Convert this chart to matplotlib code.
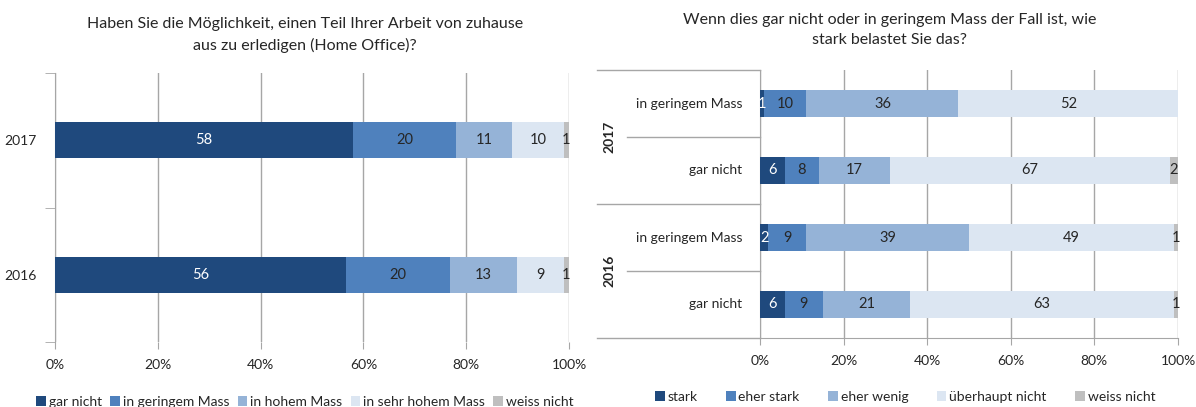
import numpy as np
import matplotlib
matplotlib.use('Agg')
import matplotlib.pyplot as plt
import matplotlib.transforms as mtransforms

plt.rcParams['font.family'] = ['Lato', 'DejaVu Sans']

# left chart
LEFT_TITLE = 'Haben Sie die Möglichkeit, einen Teil Ihrer Arbeit von zuhause\naus zu erledigen (Home Office)?'
LEFT_YEARS = ['2016', '2017']
LEFT_SERIES = ['gar nicht', 'in geringem Mass', 'in hohem Mass', 'in sehr hohem Mass', 'weiss nicht']
LEFT_VALUES = [
    [56, 58],   # gar nicht
    [20, 20],   # in geringem Mass
    [13, 11],   # in hohem Mass
    [9, 10],    # in sehr hohem Mass
    [1, 1],     # weiss nicht
]

# right chart
RIGHT_TITLE = 'Wenn dies gar nicht oder in geringem Mass der Fall ist, wie\nstark belastet Sie das?'
RIGHT_GROUPS = ['2016', '2017']
RIGHT_CATS = ['gar nicht', 'in geringem Mass', 'gar nicht', 'in geringem Mass']
RIGHT_SERIES = ['stark', 'eher stark', 'eher wenig', 'überhaupt nicht', 'weiss nicht']
RIGHT_VALUES = [
    [6, 2, 6, 1],       # stark
    [9, 9, 8, 10],      # eher stark
    [21, 39, 17, 36],   # eher wenig
    [63, 49, 67, 52],   # überhaupt nicht
    [1, 1, 2, 0],       # weiss nicht
]
XTICKS = [0, 20, 40, 60, 80, 100]

COLORS = ['#1F497D', '#4F81BD', '#95B3D7', '#DCE6F2', '#BFBFBF']
TEXT_COLORS = ['white', '#262626', '#262626', '#262626', '#262626']
GRID = '#A6A6A6'


def stacked(ax, values, series, height):
    vals = np.array(values, dtype=float)
    totals = vals.sum(axis=0)
    left = np.zeros(vals.shape[1])
    ys = np.arange(vals.shape[1])
    for i, name in enumerate(series):
        w = vals[i] / totals * 100
        ax.barh(ys, w, left=left, height=height, color=COLORS[i], label=name, zorder=3)
        for y, l, ww, v in zip(ys, left, w, vals[i]):
            if v > 0:
                ax.text(l + ww / 2, y, f'{v:.0f}', ha='center', va='center',
                        fontsize=10.5, color=TEXT_COLORS[i], zorder=4)
        left += w


def style_x(ax):
    ax.set_xlim(0, 100)
    ax.set_xticks(XTICKS)
    ax.set_xticklabels([f'{t}%' for t in XTICKS], fontsize=10, color='#262626')
    ax.grid(axis='x', color=GRID, linewidth=1, zorder=0)
    ax.tick_params(axis='x', length=5, color=GRID, pad=7)
    for s in ['top', 'right']:
        ax.spines[s].set_visible(False)
    ax.spines['bottom'].set_color(GRID)
    ax.spines['left'].set_color(GRID)


fig = plt.figure(figsize=(11.96, 4.07), dpi=100)

# ---- left
ax1 = fig.add_axes([55 / 1196, 1 - 342 / 407, 514 / 1196, 269 / 407])
stacked(ax1, LEFT_VALUES, LEFT_SERIES, 0.27)
style_x(ax1)
ax1.set_ylim(-0.5, 1.5)
ax1.set_yticks([0, 1])
ax1.set_yticklabels(LEFT_YEARS, fontsize=10, color='#262626')
ax1.set_yticks([-0.5, 0.5, 1.5], minor=True)
ax1.tick_params(axis='y', which='major', length=0, pad=13)
ax1.tick_params(axis='y', which='minor', length=7, color=GRID)
ax1.spines['bottom'].set_visible(False)
fig.text(305 / 1196, 1 - 35 / 407, LEFT_TITLE, ha='center', va='center',
         fontsize=11.5, color='#262626', linespacing=1.5)
h, l = ax1.get_legend_handles_labels()
fig.legend(h, l, loc='center', bbox_to_anchor=(305 / 1196, 1 - 402 / 407), ncol=5,
           frameon=False, fontsize=10, handlelength=0.7, handleheight=0.7,
           handletextpad=0.2, columnspacing=0.6, labelcolor='#262626')

# ---- right
ax2 = fig.add_axes([760 / 1196, 1 - 338 / 407, 418 / 1196, 268 / 407])
stacked(ax2, RIGHT_VALUES, RIGHT_SERIES, 0.4)
style_x(ax2)
ax2.set_ylim(-0.5, 3.5)
ax2.set_yticks([])
ax2.spines['left'].set_color(GRID)
tr = mtransforms.blended_transform_factory(fig.transFigure, ax2.transData)
x_outer, x_inner, x_axis = 597 / 1196, 627 / 1196, 760 / 1196
for y, x0 in [(3.5, x_outer), (2.5, x_inner), (1.5, x_outer), (0.5, x_inner), (-0.5, x_outer)]:
    ax2.plot([x0, x_axis], [y, y], transform=tr, color=GRID, lw=1, clip_on=False)
for y, cat in enumerate(RIGHT_CATS):
    ax2.text(742 / 1196, y, cat, transform=tr, ha='right', va='center',
             fontsize=10, color='#262626')
for g, name in enumerate(RIGHT_GROUPS):
    ax2.text(609 / 1196, 2 * g + 0.5, name, transform=tr, ha='center', va='center',
             rotation=90, fontsize=10, fontweight='bold', color='#262626')
fig.text(890 / 1196, 1 - 30 / 407, RIGHT_TITLE, ha='center', va='center',
         fontsize=11.5, color='#262626', linespacing=1.5)
h, l = ax2.get_legend_handles_labels()
fig.legend(h, l, loc='center', bbox_to_anchor=(905 / 1196, 1 - 397 / 407), ncol=5,
           frameon=False, fontsize=10, handlelength=0.7, handleheight=0.7,
           handletextpad=0.2, columnspacing=2.05, labelcolor='#262626')

fig.savefig('out.png', dpi=100)
